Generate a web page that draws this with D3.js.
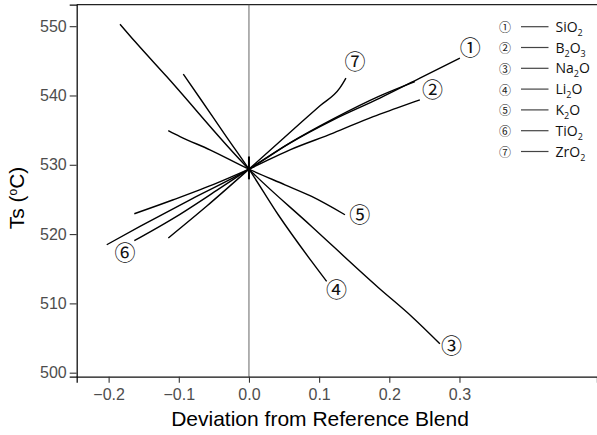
<!DOCTYPE html>
<html>
<head>
<meta charset="utf-8">
<script src="https://cdn.jsdelivr.net/npm/d3@7"></script>
<style>
  html, body { margin: 0; padding: 0; background: #fff; }
  svg { display: block; }
</style>
</head>
<body>
<div id="chart"></div>
<script>
// ---------------- data ----------------
const oxideNames = ["SiO2", "B2O3", "Na2O", "Li2O", "K2O", "TiO2", "ZrO2"];
const oxideSymbols = ["①", "②", "③", "④", "⑤", "⑥", "⑦"];
const legendParts = [
  [["Si",0],["O",0],["2",1]],
  [["B",0],["2",1],["O",0],["3",1]],
  [["Na",0],["2",1],["O",0]],
  [["Li",0],["2",1],["O",0]],
  [["K",0],["2",1],["O",0]],
  [["Ti",0],["O",0],["2",1]],
  [["Zr",0],["O",0],["2",1]]
];

// deviation (x) and Ts (y) for each trace, from the negative end to the positive end
const siO2Dev = [-0.2027, -0.1553, -0.084, 0, 0.0584, 0.1201, 0.1866, 0.2436, 0.3006];
const siO2Ts  = [518.46, 521.10, 524.95, 529.37, 533.13, 536.49, 539.62, 542.50, 545.39];
const b2O3Dev = [-0.1634, -0.1078, -0.046, 0, 0.0584, 0.1201, 0.1771, 0.2104, 0.2436];
const b2O3Ts  = [522.93, 524.95, 527.35, 529.37, 532.16, 534.57, 536.96, 538.17, 539.37];
const na2ODev = [-0.1838, -0.1624, -0.1173, 0, 0.0893, 0.1842, 0.2318, 0.2721];
const na2OTs  = [550.29, 547.78, 542.73, 529.37, 521.10, 512.30, 508.12, 504.18];
const li2ODev = [-0.0936, -0.0698, -0.0318, 0, 0.0417, 0.0893, 0.1107];
const li2OTs  = [543.08, 539.6, 534.0, 529.37, 522.79, 516.05, 513.17];
const k2ODev  = [-0.115, -0.0983, -0.0556, 0, 0.0513, 0.0893, 0.1368];
const k2OTs   = [534.94, 534.08, 532.16, 529.37, 527.11, 525.43, 522.79];
const tiO2Dev = [-0.1634, -0.1078, -0.046, 0, 0.0584, 0.1201, 0.1866, 0.2365];
const tiO2Ts  = [519.04, 522.26, 526.30, 529.37, 533.17, 536.63, 539.95, 542.01];
const zrO2Dev = [-0.115, -0.06, 0, 0.05, 0.1, 0.1296, 0.1338, 0.1382];
const zrO2Ts  = [519.43, 524.05, 529.37, 533.90, 538.42, 541.10, 541.75, 542.50];

const seriesDev = [siO2Dev, b2O3Dev, na2ODev, li2ODev, k2ODev, tiO2Dev, zrO2Dev];
const seriesTs  = [siO2Ts,  b2O3Ts,  na2OTs,  li2OTs,  k2OTs,  tiO2Ts,  zrO2Ts];

// label anchor (data coordinates) for each circled number
const labelDev = [0.3155, 0.2617, 0.2888, 0.1249, 0.158, -0.1766, 0.151];
const labelTs  = [546.8, 540.8, 503.8, 512.0, 522.79, 517.3, 544.85];

// short mark at the reference blend
const centerMarkTs = [531.2, 527.9];

const xTicks = [-0.2, -0.1, 0.0, 0.1, 0.2, 0.3];
const yTicks = [500, 510, 520, 530, 540, 550];
const xDomain = [-0.2455, 0.496];
const yDomain = [499.42, 553.1];

// ---------------- layout ----------------
const W = 597, H = 435;
const mLeft = 76.7, mRight = 597, mTop = 4.7, mBottom = 376.7;

const svg = d3.select("#chart").append("svg")
  .attr("width", W).attr("height", H);

const x = d3.scaleLinear().domain(xDomain).range([mLeft, mRight]);
const y = d3.scaleLinear().domain(yDomain).range([mBottom, mTop]);

// top border
svg.append("line")
  .attr("x1", mLeft).attr("x2", mRight)
  .attr("y1", mTop).attr("y2", mTop)
  .attr("stroke", "#222").attr("stroke-width", 1.2);

// zero reference line
svg.append("line")
  .attr("x1", x(0)).attr("x2", x(0))
  .attr("y1", mTop).attr("y2", mBottom)
  .attr("stroke", "#666").attr("stroke-width", 1);

// axes
const fmtX = d3.format(".1f");
const xAxis = svg.append("g")
  .attr("transform", `translate(0,${mBottom})`)
  .call(d3.axisBottom(x).tickValues(xTicks).tickFormat(fmtX).tickSizeOuter(0).tickSize(6).tickPadding(6));
const yAxis = svg.append("g")
  .attr("transform", `translate(${mLeft},0)`)
  .call(d3.axisLeft(y).tickValues(yTicks).tickFormat(d3.format("d")).tickSizeOuter(0).tickSize(7).tickPadding(3));

[xAxis, yAxis].forEach(g => {
  g.select(".domain").attr("stroke", "#111").attr("stroke-width", 1.3);
  g.selectAll(".tick line").attr("stroke", "#333").attr("stroke-width", 1.1);
  g.selectAll(".tick text")
    .attr("fill", "#4d4d4d")
    .style("font-family", "'Liberation Sans', Arial, sans-serif")
    .style("font-size", "16px");
});

// axis titles
svg.append("text")
  .attr("x", 320).attr("y", 426)
  .attr("text-anchor", "middle")
  .style("font-family", "'Liberation Sans', Arial, sans-serif")
  .style("font-size", "21px")
  .attr("fill", "#000")
  .text("Deviation from Reference Blend");

const yt = svg.append("text")
  .attr("transform", `translate(23.5,${198}) rotate(-90)`)
  .attr("text-anchor", "middle")
  .style("font-family", "'Liberation Sans', Arial, sans-serif")
  .style("font-size", "21px")
  .attr("fill", "#000");
yt.append("tspan").text("Ts (");
yt.append("tspan").attr("font-size", "12px").attr("dy", "-7").text("o");
yt.append("tspan").attr("dy", "7").text("C)");

// series lines
const line = d3.line().curve(d3.curveMonotoneX).x(d => x(d[0])).y(d => y(d[1]));
seriesDev.forEach((dev, i) => {
  const pts = dev.map((v, j) => [v, seriesTs[i][j]]);
  svg.append("path")
    .attr("d", line(pts))
    .attr("fill", "none")
    .attr("stroke", "#000")
    .attr("stroke-width", 1.4)
    .attr("stroke-linejoin", "round");
});

// center mark
svg.append("line")
  .attr("x1", x(0)).attr("x2", x(0))
  .attr("y1", y(centerMarkTs[0])).attr("y2", y(centerMarkTs[1]))
  .attr("stroke", "#000").attr("stroke-width", 2);

// circled number labels on the plot
oxideSymbols.forEach((s, i) => {
  svg.append("text")
    .attr("x", x(labelDev[i])).attr("y", y(labelTs[i]))
    .attr("text-anchor", "middle")
    .attr("dominant-baseline", "central")
    .style("font-family", "'DejaVu Serif', 'Noto Sans CJK KR', serif")
    .style("font-size", "21px")
    .attr("fill", "#111")
    .text(s);
});

// legend
const lgX = 505, lgY0 = 26.7, lgStep = 20.8;
oxideSymbols.forEach((s, i) => {
  const yy = lgY0 + i * lgStep;
  svg.append("text")
    .attr("x", lgX).attr("y", yy)
    .attr("text-anchor", "middle")
    .attr("dominant-baseline", "central")
    .style("font-family", "'Noto Sans CJK KR', sans-serif")
    .style("font-size", "12px")
    .attr("fill", "#222")
    .text(s);
  svg.append("line")
    .attr("x1", 521).attr("x2", 548.5)
    .attr("y1", yy).attr("y2", yy)
    .attr("stroke", "#444").attr("stroke-width", 1.2);
  const t = svg.append("text")
    .attr("x", 555.5).attr("y", yy + 5)
    .style("font-family", "'Open Sans', 'Noto Sans', sans-serif")
    .style("font-size", "14px")
    .attr("fill", "#111");
  let sub = false;
  legendParts[i].forEach(([txt, isSub]) => {
    const ts = t.append("tspan").text(txt);
    if (isSub && !sub) { ts.attr("dy", 4).attr("font-size", "9px"); sub = true; }
    else if (!isSub && sub) { ts.attr("dy", -4); sub = false; }
    else if (isSub) { ts.attr("font-size", "9px"); }
  });
});
</script>
</body>
</html>
